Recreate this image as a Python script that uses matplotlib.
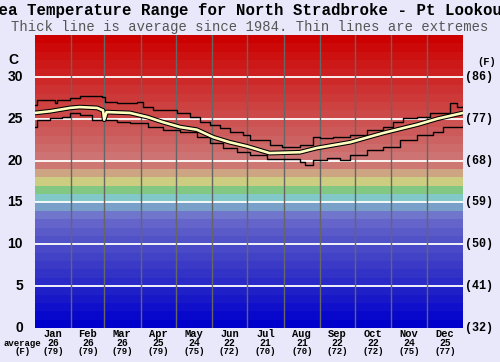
import matplotlib.pyplot as plt
import numpy as np

# month labels and monthly averages
months = ['Jan', 'Feb', 'Mar', 'Apr', 'May', 'Jun', 'Jul', 'Aug', 'Sep', 'Oct', 'Nov', 'Dec']
avg_c = [26, 26, 26, 25, 24, 22, 21, 21, 22, 22, 24, 25]
avg_f = [79, 79, 79, 79, 75, 72, 70, 70, 72, 72, 75, 77]
month_len = [31, 28, 31, 30, 31, 30, 31, 31, 30, 31, 30, 31]

# thick line: average (day of year, deg C)
avg_days = [0, 13, 30, 38, 53, 58, 59, 61, 81, 96, 109, 124, 138, 152, 166, 181,
            200, 226, 240, 269, 297, 326, 343, 365]
avg_temp = [25.7, 25.9, 26.3, 26.4, 26.3, 26.0, 24.9, 25.8, 25.7, 25.2, 24.6, 24.0,
            23.7, 22.8, 22.2, 21.7, 20.9, 21.0, 21.5, 22.2, 23.3, 24.3, 25.0, 25.7]

# thin lines: extremes (stepped)
hi_days = [0, 2, 17, 19, 30, 38, 57, 60, 70, 87, 92, 101, 113, 121, 132, 141, 149, 158,
           166, 177, 183, 200, 211, 226, 237, 243, 254, 269, 283, 297, 305, 314, 326,
           337, 354, 360, 365]
hi_temp = [26.6, 27.2, 26.9, 27.2, 27.5, 27.7, 27.6, 27.0, 26.9, 27.0, 26.4, 26.0, 26.0,
           25.7, 25.2, 24.6, 24.3, 23.9, 23.4, 23.1, 22.5, 21.9, 21.6, 21.9, 22.8, 22.7,
           22.8, 23.1, 23.7, 24.0, 24.6, 25.1, 25.2, 25.7, 26.9, 26.4, 26.5]
lo_days = [0, 2, 13, 23, 30, 38, 49, 58, 70, 81, 96, 109, 124, 138, 149, 160, 172, 183,
           198, 211, 226, 230, 237, 249, 260, 269, 283, 297, 311, 326, 339, 348, 360, 365]
lo_temp = [24.0, 24.9, 25.1, 25.2, 25.7, 25.4, 24.9, 24.9, 24.6, 24.5, 24.0, 23.7, 23.4,
           22.8, 22.1, 21.5, 21.0, 20.7, 20.2, 20.2, 19.8, 19.5, 20.1, 20.3, 20.1, 20.7,
           21.3, 21.6, 22.5, 23.1, 23.4, 24.0, 24.0, 24.1]

# background band colours, one per degree from 0 to 35
band_cols = [(0, 0, 204), (8, 8, 204), (16, 16, 204), (24, 24, 200), (32, 32, 200),
             (42, 42, 200), (50, 50, 198), (58, 58, 198), (66, 66, 198), (74, 74, 200),
             (82, 82, 200), (90, 90, 200), (100, 100, 202), (112, 118, 204), (120, 160, 200),
             (130, 200, 200), (130, 200, 130), (205, 205, 130), (205, 165, 130),
             (205, 120, 115)]
for i in range(15):
    g = int(115 * (1 - i / 14))
    band_cols.append((205, g, g))

fig = plt.figure(figsize=(5, 3.62), dpi=100, facecolor='#e8e8fa')
ax = fig.add_axes([0.07, 0.094, 0.856, 0.809])

for i, c in enumerate(band_cols):
    ax.axhspan(i, i + 1, color=np.array(c) / 255, lw=0, zorder=0)

for t in range(5, 35, 5):
    ax.axhline(t, color='white', lw=1.3, zorder=1)

edges = np.cumsum(month_len)
for e in edges[:-1]:
    ax.axvline(e, color='#666666', lw=1, zorder=1)

ax.step(hi_days, hi_temp, where='post', color='black', lw=1, zorder=2)
ax.step(lo_days, lo_temp, where='post', color='black', lw=1, zorder=2)
ax.plot(avg_days, avg_temp, color='black', lw=3.4, zorder=3)
ax.plot(avg_days, avg_temp, color='#ffffc0', lw=1.9, zorder=4)

ax.set_xlim(0, 365)
ax.set_ylim(0, 35)
ax.set_xticks([])
ax.set_yticks([])
for s in ax.spines.values():
    s.set_visible(False)

# axis labels
sans = dict(family='Liberation Sans', weight='bold', fontsize=10)
mono = dict(family='Liberation Mono', weight='bold')
for t in range(0, 35, 5):
    ax.text(-0.028, t, str(t), transform=ax.get_yaxis_transform(), ha='right', va='center', **sans)
    ax.text(1.005, t, '(%d)' % round(t * 9 / 5 + 32), transform=ax.get_yaxis_transform(),
            ha='left', va='center', fontsize=8.5, **mono)
ax.text(-0.05, 32, 'C', transform=ax.get_yaxis_transform(), ha='center', va='center', **sans)
ax.text(1.055, 31.8, '(F)', transform=ax.get_yaxis_transform(), ha='center', va='center',
        fontsize=7.5, **mono)

mids = edges - np.array(month_len) / 2
for m, c, f, x in zip(months, avg_c, avg_f, mids):
    ax.text(x, -0.7, m, ha='center', va='center', fontsize=7.5, **mono)
    ax.text(x, -1.8, str(c), ha='center', va='center', fontsize=7, **mono)
    ax.text(x, -2.85, '(%d)' % f, ha='center', va='center', fontsize=6.5, **mono)
fig.text(0.044, (362 - 343) / 362, 'average', ha='center', va='center', fontsize=6.5, **mono)
fig.text(0.046, (362 - 352) / 362, '(F)', ha='center', va='center', fontsize=6.5, **mono)

fig.text(0.5, (362 - 11) / 362, 'Sea Temperature Range for North Stradbroke - Pt Lookout',
         ha='center', va='center', fontsize=11.3, **mono)
fig.text(0.5, (362 - 27) / 362, 'Thick line is average since 1984. Thin lines are extremes',
         ha='center', va='center', fontsize=10, family='Liberation Mono', color='#555555')

fig.savefig('out.png', dpi=100, facecolor=fig.get_facecolor())
